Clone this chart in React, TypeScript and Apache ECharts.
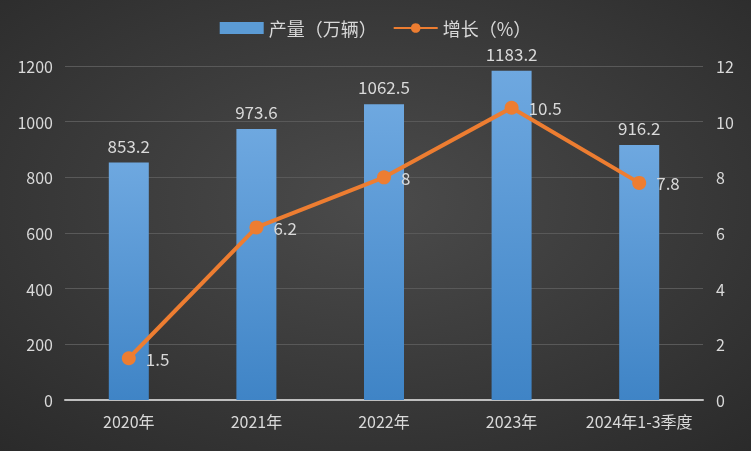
import React, { useEffect, useRef } from "react";
import * as echarts from "echarts";

const categories = ["2020年", "2021年", "2022年", "2023年", "2024年1-3季度"];
const output = [853.2, 973.6, 1062.5, 1183.2, 916.2];
const growth = [1.5, 6.2, 8, 10.5, 7.8];

export default function App() {
  const ref = useRef<HTMLDivElement>(null);
  useEffect(() => {
    const chart = echarts.init(ref.current!, null, { renderer: "svg" });
    const font = "'Noto Sans CJK SC', 'Noto Sans', sans-serif";
    chart.setOption({
      animation: false,
      backgroundColor: {
        type: "radial",
        x: 0.5,
        y: 0.45,
        r: 0.75,
        colorStops: [
          { offset: 0, color: "#4b4b4b" },
          { offset: 1, color: "#2a2a2a" },
        ],
      },
      textStyle: { fontFamily: font },
      legend: {
        top: 14,
        left: "center",
        itemGap: 16,
        textStyle: { color: "#d9d9d9", fontSize: 18, lineHeight: 18, fontFamily: font },
        data: [
          { name: "产量（万辆）", icon: "rect", itemStyle: { color: "#5b9bd5" } },
          { name: "增长（%）" },
        ],
        itemWidth: 44,
        itemHeight: 12,
      },
      grid: { left: 65, right: 48, top: 66, bottom: 51, containLabel: false },
      xAxis: {
        type: "category",
        data: categories,
        axisLine: { lineStyle: { color: "#bfbfbf", width: 2 } },
        axisTick: { show: false },
        axisLabel: { color: "#d9d9d9", fontSize: 16, margin: 13, interval: 0, fontFamily: font },
      },
      yAxis: [
        {
          type: "value",
          min: 0,
          max: 1200,
          interval: 200,
          axisLine: { show: false },
          axisTick: { show: false },
          axisLabel: { color: "#d9d9d9", fontSize: 16, margin: 12, fontFamily: font, formatter: (v: number) => String(v) },
          splitLine: { lineStyle: { color: "#595959", width: 1 } },
        },
        {
          type: "value",
          min: 0,
          max: 12,
          interval: 2,
          axisLine: { show: false },
          axisTick: { show: false },
          axisLabel: { color: "#d9d9d9", fontSize: 16, margin: 13, fontFamily: font },
          splitLine: { show: false },
        },
      ],
      series: [
        {
          name: "产量（万辆）",
          type: "bar",
          data: output,
          barWidth: 40,
          itemStyle: {
            color: {
              type: "linear",
              x: 0,
              y: 0,
              x2: 0,
              y2: 1,
              colorStops: [
                { offset: 0, color: "#6ea8e0" },
                { offset: 1, color: "#3f84c6" },
              ],
            },
          },
          label: {
            show: true,
            position: "top",
            distance: 9,
            color: "#d9d9d9",
            fontSize: 17,
            lineHeight: 17,
            fontFamily: font,
          },
        },
        {
          name: "增长（%）",
          type: "line",
          yAxisIndex: 1,
          data: growth,
          symbol: "circle",
          symbolSize: 14,
          lineStyle: { color: "#ed7d31", width: 4 },
          itemStyle: { color: "#ed7d31" },
          label: {
            show: true,
            position: "right",
            distance: 10,
            color: "#d9d9d9",
            fontSize: 17,
            fontFamily: font,
          },
        },
      ],
    });
    return () => chart.dispose();
  }, []);
  return (
    <div
      ref={ref}
      style={{ position: "fixed", left: 0, top: 0, width: 751, height: 451 }}
    />
  );
}
